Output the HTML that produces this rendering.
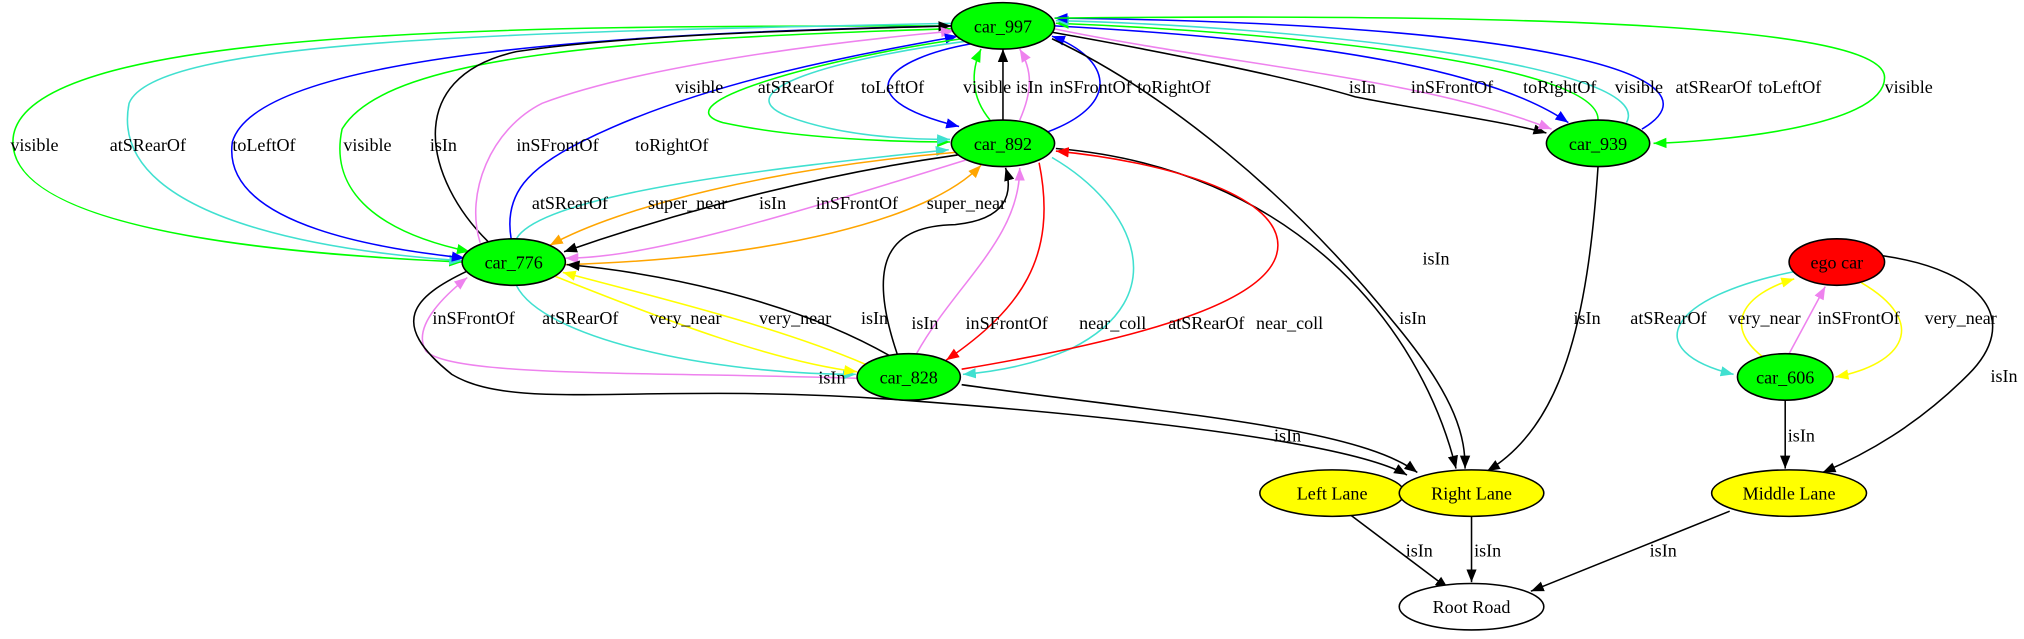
<!DOCTYPE html>
<html><head><meta charset="utf-8"><style>
html,body{margin:0;padding:0;background:#fff;}
svg{display:block}
text{font-family:"Liberation Serif",serif;font-size:14px;fill:#000}
</style></head><body>
<svg width="2024" height="639" viewBox="0 0 1568 495" xmlns="http://www.w3.org/2000/svg">
<defs>
<marker id="k" viewBox="0 0 10 10" refX="10" refY="5" markerWidth="10" markerHeight="10" markerUnits="userSpaceOnUse" orient="auto"><path d="M0,1 L10,5 L0,9z" fill="#000"/></marker>
<marker id="g" viewBox="0 0 10 10" refX="10" refY="5" markerWidth="10" markerHeight="10" markerUnits="userSpaceOnUse" orient="auto"><path d="M0,1 L10,5 L0,9z" fill="#0f0"/></marker>
<marker id="c" viewBox="0 0 10 10" refX="10" refY="5" markerWidth="10" markerHeight="10" markerUnits="userSpaceOnUse" orient="auto"><path d="M0,1 L10,5 L0,9z" fill="#40e0d0"/></marker>
<marker id="b" viewBox="0 0 10 10" refX="10" refY="5" markerWidth="10" markerHeight="10" markerUnits="userSpaceOnUse" orient="auto"><path d="M0,1 L10,5 L0,9z" fill="#00f"/></marker>
<marker id="v" viewBox="0 0 10 10" refX="10" refY="5" markerWidth="10" markerHeight="10" markerUnits="userSpaceOnUse" orient="auto"><path d="M0,1 L10,5 L0,9z" fill="#ee82ee"/></marker>
<marker id="o" viewBox="0 0 10 10" refX="10" refY="5" markerWidth="10" markerHeight="10" markerUnits="userSpaceOnUse" orient="auto"><path d="M0,1 L10,5 L0,9z" fill="#ffa500"/></marker>
<marker id="r" viewBox="0 0 10 10" refX="10" refY="5" markerWidth="10" markerHeight="10" markerUnits="userSpaceOnUse" orient="auto"><path d="M0,1 L10,5 L0,9z" fill="#f00"/></marker>
<marker id="y" viewBox="0 0 10 10" refX="10" refY="5" markerWidth="10" markerHeight="10" markerUnits="userSpaceOnUse" orient="auto"><path d="M0,1 L10,5 L0,9z" fill="#ff0"/></marker>
</defs>
<g fill="none" stroke-width="1.2">
<!-- 997 <-> 776 -->
<path d="M737,20 C400,20 10,20 10,110 C10,190 300,200 358,203" stroke="#0f0" marker-end="url(#g)"/>
<path d="M740,18 C400,25 120,30 100,80 C80,180 300,198 358,202" stroke="#40e0d0" marker-end="url(#c)"/>
<path d="M740,20 C500,25 200,40 180,110 C170,180 320,195 360,200" stroke="#00f" marker-end="url(#b)"/>
<path d="M742,22 C500,30 300,40 265,100 C250,170 340,190 364,195" stroke="#0f0" marker-end="url(#g)"/>
<path d="M378,187 C330,140 310,60 400,40 C500,25 680,22 737,20" stroke="#000" marker-end="url(#k)"/>
<path d="M372,188 C360,150 380,100 420,80 C500,50 650,32 739,24" stroke="#ee82ee" marker-end="url(#v)"/>
<path d="M396,185 C390,150 410,130 450,110 C550,60 680,40 742,28" stroke="#00f" marker-end="url(#b)"/>
<!-- 997 <-> 892 -->
<path d="M745,30 C640,45 510,80 560,95 C620,108 700,110 736,110" stroke="#0f0" marker-end="url(#g)"/>
<path d="M748,32 C650,45 560,70 610,90 C650,105 700,108 736,108" stroke="#40e0d0" marker-end="url(#c)"/>
<path d="M752,34 C690,45 650,75 743,98" stroke="#00f" marker-end="url(#b)"/>
<path d="M767,93 C752,75 752,55 760,38" stroke="#0f0" marker-end="url(#g)"/>
<path d="M777,93 L777,38" stroke="#000" marker-end="url(#k)"/>
<path d="M790,93 C800,70 800,55 790,38" stroke="#ee82ee" marker-end="url(#v)"/>
<path d="M812,102 C870,80 860,45 815,28" stroke="#00f" marker-end="url(#b)"/>
<!-- 997 <-> 939 -->
<path d="M815,25 C900,40 1000,60 1050,75 C1100,85 1170,95 1198,103" stroke="#000" marker-end="url(#k)"/>
<path d="M815,22 C950,50 1100,60 1202,100" stroke="#ee82ee" marker-end="url(#v)"/>
<path d="M817,20 C1000,30 1150,50 1215,95" stroke="#00f" marker-end="url(#b)"/>
<path d="M1238,93 C1240,50 1000,25 818,18" stroke="#0f0" marker-end="url(#g)"/>
<path d="M1260,95 C1285,50 1000,20 818,16" stroke="#40e0d0" marker-end="url(#c)"/>
<path d="M1272,100 C1340,60 1200,18 817,14" stroke="#00f" marker-end="url(#b)"/>
<path d="M817,14 C1200,10 1460,20 1460,60 C1460,100 1320,110 1281,111" stroke="#0f0" marker-end="url(#g)"/>
<!-- to Right Lane -->
<path d="M815,30 C900,70 1000,150 1080,250 C1130,310 1135,340 1135,363" stroke="#000" marker-end="url(#k)"/>
<path d="M818,115 C1000,130 1100,250 1128,363" stroke="#000" marker-end="url(#k)"/>
<path d="M1238,129 C1230,250 1210,330 1152,365" stroke="#000" marker-end="url(#k)"/>
<!-- 892 <-> 776 -->
<path d="M400,185 C420,150 600,130 735,116" stroke="#40e0d0" marker-end="url(#c)"/>
<path d="M740,118 C600,130 480,160 426,190" stroke="#ffa500" marker-end="url(#o)"/>
<path d="M742,120 C600,140 480,180 437,195" stroke="#000" marker-end="url(#k)"/>
<path d="M748,124 C600,170 500,200 438,200" stroke="#ee82ee" marker-end="url(#v)"/>
<path d="M438,205 C600,200 720,170 760,128" stroke="#ffa500" marker-end="url(#o)"/>
<!-- 828 <-> 892 -->
<path d="M695,274 C670,200 690,175 740,174 C780,170 785,150 779,130" stroke="#000" marker-end="url(#k)"/>
<path d="M710,274 C740,220 790,185 790,130" stroke="#ee82ee" marker-end="url(#v)"/>
<path d="M805,126 C820,200 790,240 733,279" stroke="#f00" marker-end="url(#r)"/>
<path d="M815,122 C880,160 910,230 830,270 C800,283 770,288 746,290" stroke="#40e0d0" marker-end="url(#c)"/>
<path d="M745,286 C900,260 990,230 990,190 C990,150 900,125 818,117" stroke="#f00" marker-end="url(#r)"/>
<!-- 828 <-> 776 -->
<path d="M690,276 C610,230 500,210 439,205" stroke="#000" marker-end="url(#k)"/>
<path d="M664,293 C500,288 350,292 330,272 C318,252 348,226 362,215" stroke="#ee82ee" marker-end="url(#v)"/>
<path d="M400,221 C420,262 550,290 663,290" stroke="#40e0d0" marker-end="url(#c)"/>
<path d="M430,214 C520,250 600,280 664,288" stroke="#ff0" marker-end="url(#y)"/>
<path d="M670,282 C600,252 500,228 436,211" stroke="#ff0" marker-end="url(#y)"/>
<path d="M362,210 C320,230 300,250 350,290 C400,320 500,295 700,310 C900,325 1050,345 1090,368" stroke="#000" marker-end="url(#k)"/>
<path d="M745,298 C900,320 1050,330 1098,366" stroke="#000" marker-end="url(#k)"/>
<!-- ego -->
<path d="M1392,210 C1290,230 1270,272 1343,290" stroke="#40e0d0" marker-end="url(#c)"/>
<path d="M1365,276 C1335,252 1350,228 1390,216" stroke="#ff0" marker-end="url(#y)"/>
<path d="M1386,274 L1414,222" stroke="#ee82ee" marker-end="url(#v)"/>
<path d="M1442,219 C1495,250 1475,282 1422,292" stroke="#ff0" marker-end="url(#y)"/>
<path d="M1458,198 C1540,210 1565,250 1525,290 C1485,330 1445,352 1412,366" stroke="#000" marker-end="url(#k)"/>
<path d="M1383,310 L1383,363" stroke="#000" marker-end="url(#k)"/>
<!-- to root -->
<path d="M1045,398 L1122,456" stroke="#000" marker-end="url(#k)"/>
<path d="M1140,400 L1140,451" stroke="#000" marker-end="url(#k)"/>
<path d="M1340,396 L1186,458" stroke="#000" marker-end="url(#k)"/>
</g>
<g stroke="#000" stroke-width="1.2">
<ellipse cx="777" cy="20" rx="40" ry="18" fill="#0f0"/>
<ellipse cx="777" cy="111" rx="40" ry="18" fill="#0f0"/>
<ellipse cx="1238" cy="111" rx="40" ry="18" fill="#0f0"/>
<ellipse cx="398" cy="203" rx="40" ry="18" fill="#0f0"/>
<ellipse cx="704" cy="292" rx="40" ry="18" fill="#0f0"/>
<ellipse cx="1423" cy="203" rx="37" ry="18" fill="#f00"/>
<ellipse cx="1383" cy="292" rx="37" ry="18" fill="#0f0"/>
<ellipse cx="1032" cy="382" rx="56" ry="18" fill="#ff0"/>
<ellipse cx="1140" cy="382" rx="56" ry="18" fill="#ff0"/>
<ellipse cx="1386" cy="382" rx="60" ry="18" fill="#ff0"/>
<ellipse cx="1140" cy="470" rx="56" ry="18" fill="#fff"/>
</g>
<g text-anchor="middle">
<text x="777" y="25">car_997</text>
<text x="777" y="116">car_892</text>
<text x="1238" y="116">car_939</text>
<text x="398" y="208">car_776</text>
<text x="704" y="297">car_828</text>
<text x="1423" y="208">ego car</text>
<text x="1383" y="297">car_606</text>
<text x="1032" y="387">Left Lane</text>
<text x="1140" y="387">Right Lane</text>
<text x="1386" y="387">Middle Lane</text>
<text x="1140" y="475">Root Road</text>
</g>
<g>
<text x="8" y="117">visible</text>
<text x="85" y="117">atSRearOf</text>
<text x="180" y="117">toLeftOf</text>
<text x="266" y="117">visible</text>
<text x="333" y="117">isIn</text>
<text x="400" y="117">inSFrontOf</text>
<text x="492" y="117">toRightOf</text>
<text x="523" y="72">visible</text>
<text x="587" y="72">atSRearOf</text>
<text x="667" y="72">toLeftOf</text>
<text x="746" y="72">visible</text>
<text x="787" y="72">isIn</text>
<text x="813" y="72">inSFrontOf</text>
<text x="881" y="72">toRightOf</text>
<text x="1045" y="72">isIn</text>
<text x="1093" y="72">inSFrontOf</text>
<text x="1180" y="72">toRightOf</text>
<text x="1251" y="72">visible</text>
<text x="1298" y="72">atSRearOf</text>
<text x="1362" y="72">toLeftOf</text>
<text x="1460" y="72">visible</text>
<text x="412" y="162">atSRearOf</text>
<text x="502" y="162">super_near</text>
<text x="588" y="162">isIn</text>
<text x="632" y="162">inSFrontOf</text>
<text x="718" y="162">super_near</text>
<text x="706" y="255">isIn</text>
<text x="748" y="255">inSFrontOf</text>
<text x="836" y="255">near_coll</text>
<text x="905" y="255">atSRearOf</text>
<text x="973" y="255">near_coll</text>
<text x="1102" y="205">isIn</text>
<text x="1084" y="251">isIn</text>
<text x="1219" y="251">isIn</text>
<text x="335" y="251">inSFrontOf</text>
<text x="420" y="251">atSRearOf</text>
<text x="503" y="251">very_near</text>
<text x="588" y="251">very_near</text>
<text x="667" y="251">isIn</text>
<text x="634" y="297">isIn</text>
<text x="1263" y="251">atSRearOf</text>
<text x="1339" y="251">very_near</text>
<text x="1408" y="251">inSFrontOf</text>
<text x="1491" y="251">very_near</text>
<text x="1542" y="296">isIn</text>
<text x="1385" y="342">isIn</text>
<text x="987" y="342">isIn</text>
<text x="1089" y="431">isIn</text>
<text x="1142" y="431">isIn</text>
<text x="1278" y="431">isIn</text>
</g>
</svg>
</body></html>
